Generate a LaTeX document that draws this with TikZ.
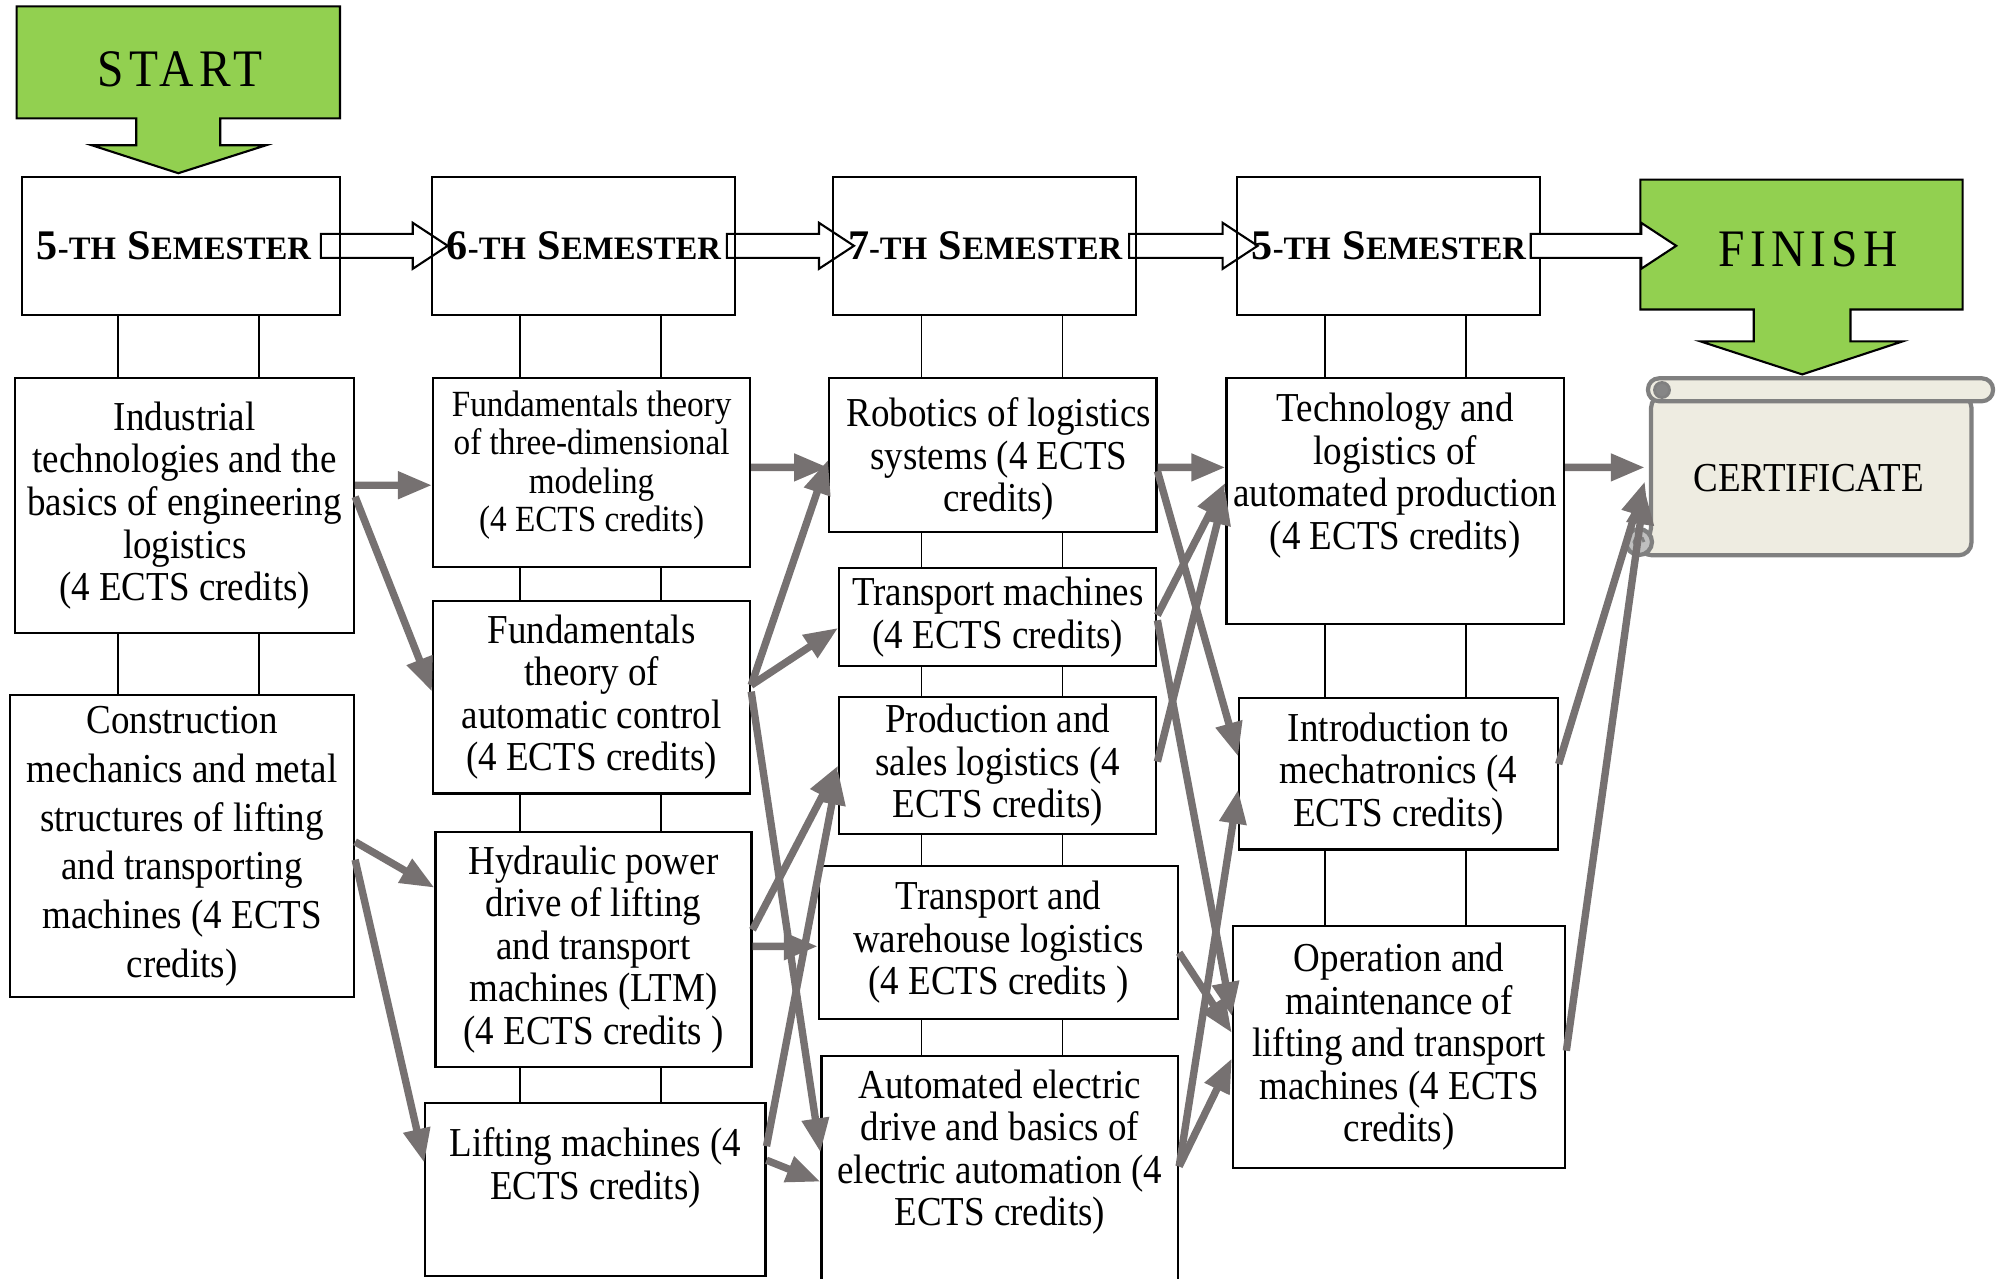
\documentclass[tikz,border=0pt]{standalone}
\usepackage{fontspec}
\setmainfont{Liberation Serif}[FakeStretch=0.9]
\newfontfamily\semfont{Liberation Serif}
\newfontfamily\bannerfont{Liberation Serif}[FakeStretch=0.9, LetterSpace=10]
\usetikzlibrary{arrows.meta, calc, positioning, backgrounds}
\definecolor{ppGreen}{HTML}{92D050}
\definecolor{ppGrey}{HTML}{767171}
\definecolor{ppScroll}{HTML}{EEECE1}
\definecolor{ppEdge}{HTML}{808080}
\definecolor{ppCurl}{HTML}{BFBFBF}
\newcommand{\semlabel}[1]{\mbox{\semfont\bfseries\fontsize{12}{14}\selectfont#1{\fontsize{9.3}{14}\selectfont-TH} S{\fontsize{9.3}{14}\selectfont EMESTER}}}
\newcommand{\blockarrow}[2]{%
  \draw[hollow] let \p1=(#1), \p2=(#2) in
    (\x1,\y1+1.2mm) -- (\x2-3.5mm,\y1+1.2mm) -- (\x2-3.5mm,\y1+2.3mm) -- (\x2,\y1)
    -- (\x2-3.5mm,\y1-2.3mm) -- (\x2-3.5mm,\y1-1.2mm) -- (\x1,\y1-1.2mm) -- cycle;}
\tikzset{
  sembox/.style     = {draw, line width=0.6pt, minimum height=13.76mm, align=left, inner xsep=1.5mm},
  course/.style     = {draw, line width=0.6pt, align=center, inner sep=0pt,
                       font=\fontsize{11.7}{12.1}\selectfont},
  coursetext/.style = {align=center, inner sep=0pt, font=\fontsize{11.7}{12.1}\selectfont},
  link/.style       = {line width=0.5pt},
  flow/.style       = {-{Triangle[length=3.4mm,width=2.6mm]}, ppGrey, line width=2.1pt},
  hollow/.style     = {draw=black, fill=white, line width=0.6pt},
  banner/.style     = {draw=black, fill=ppGreen, line width=0.6pt},
  bannertext/.style = {font=\bannerfont\fontsize{15}{18}\selectfont, inner sep=0pt},
  scroll/.style     = {draw=ppEdge, fill=ppScroll, line width=1.2pt},
}
\begin{document}
\begin{tikzpicture}[x=1cm,y=1cm]
  \useasboundingbox (0,0) rectangle (19.97,-12.78);

  % start and finish banners
  \draw[banner] (0.166,-0.064) -- (3.400,-0.064) -- (3.400,-1.184) -- (2.203,-1.184) -- (2.203,-1.452)
    -- (2.662,-1.452) -- (1.783,-1.732) -- (0.917,-1.452) -- (1.363,-1.452) -- (1.363,-1.184)
    -- (0.166,-1.184) -- cycle;
  \draw[banner] (16.404,-1.796) -- (19.626,-1.796) -- (19.626,-3.095) -- (18.505,-3.095) -- (18.505,-3.413)
    -- (19.028,-3.413) -- (18.022,-3.744) -- (17.003,-3.413) -- (17.537,-3.413) -- (17.537,-3.095)
    -- (16.404,-3.095) -- cycle;
  \node[bannertext, minimum width=32.34mm] (start) at (1.80,-0.69) {START};
  \node[bannertext, minimum width=32.22mm] (finish) at (18.08,-2.49) {FINISH};

  % certificate scroll
  \draw[scroll, rounded corners=1.3mm] (16.51,-3.95) -- (19.715,-3.95) -- (19.715,-5.553)
    -- (16.39,-5.553) -- (16.39,-5.41) -- (16.51,-5.41) -- cycle;
  \draw[scroll, fill=ppCurl] (16.39,-5.42) circle (0.13);
  \draw[ppEdge, line width=0.8pt] (16.44,-5.42) arc (0:270:0.05);
  \draw[scroll, rounded corners=1.1mm] (16.48,-3.783) rectangle (19.93,-4.012);
  \draw[ppEdge, fill=ppCurl!70!black, line width=0.8pt] (16.62,-3.90) circle (0.075);
  \node[coursetext, minimum width=32.6mm, minimum height=15.41mm] (cert) at (18.085,-4.782) {CERTIFICATE};

  % semesters
  \node[sembox, text width=28.8mm] (sem5) at (1.808,-2.458) {\semlabel{5}};
  \node[sembox, text width=27.3mm] (sem6) at (5.833,-2.458) {\semlabel{6}};
  \node[sembox, text width=27.3mm] (sem7) at (9.845,-2.458) {\semlabel{7}};
  \node[sembox, text width=27.3mm] (sem8) at (13.882,-2.458) {\semlabel{5}};
  \begin{scope}[on background layer]
    \blockarrow{[xshift=-2mm]sem5.east}{[xshift=1.7mm]sem6.west}
    \blockarrow{[xshift=-0.9mm]sem6.east}{[xshift=2.2mm]sem7.west}
    \blockarrow{[xshift=-0.8mm]sem7.east}{[xshift=2.2mm]sem8.west}
  \end{scope}
  \blockarrow{[xshift=-1mm]sem8.east}{[xshift=3mm]finish.west}

  % courses
  \node[course, minimum width=33.88mm, minimum height=25.47mm] (ind) at (1.847,-5.056)
    {Industrial\\technologies and the\\basics of engineering\\logistics\\(4 ECTS credits)};
  \node[course, minimum width=34.39mm, minimum height=30.18mm, font=\fontsize{11.7}{13.9}\selectfont]
    (cons) at (1.821,-8.463)
    {Construction\\mechanics and metal\\structures of lifting\\and transporting\\machines (4 ECTS\\credits)};
  \node[course, minimum width=31.71mm, minimum height=18.85mm] (f3d) at (5.916,-4.725) {};
  \node[coursetext, below=1.3mm of f3d.north, font=\fontsize{10.5}{10.9}\selectfont] (f3dtxt)
    {Fundamentals theory\\of three-dimensional\\modeling\\(4 ECTS credits)};
  \node[course, minimum width=31.71mm, minimum height=19.23mm] (fac) at (5.916,-6.973)
    {Fundamentals\\theory of\\automatic control\\(4 ECTS credits)};
  \node[course, minimum width=31.59mm, minimum height=23.56mm] (hyd) at (5.935,-9.495)
    {Hydraulic power\\drive of lifting\\and transport\\machines (LTM)\\(4 ECTS credits )};
  \node[course, minimum width=34.01mm, minimum height=17.32mm] (lift) at (5.954,-11.895) {};
  \node[coursetext, below=2.5mm of lift.north] (lifttxt) {Lifting machines (4\\ECTS credits)};
  \node[course, minimum width=32.73mm, minimum height=15.41mm] (rob) at (9.928,-4.553) {};
  \node[coursetext, below=2mm of rob.north, xshift=0.6mm] (robtxt)
    {Robotics of logistics\\systems (4 ECTS\\credits)};
  \node[course, minimum width=31.71mm, minimum height=9.81mm] (tm) at (9.978,-6.171)
    {Transport machines\\(4 ECTS credits)};
  \node[course, minimum width=31.71mm, minimum height=13.75mm] (prod) at (9.978,-7.654)
    {Production and\\sales logistics (4\\ECTS credits)};
  \node[course, minimum width=35.92mm, minimum height=15.28mm] (tw) at (9.985,-9.425)
    {Transport and\\warehouse logistics\\(4 ECTS credits )};
  \node[course, minimum width=35.66mm, minimum height=24.42mm] (aed) at (9.998,-11.779) {};
  \node[coursetext, below=1.4mm of aed.north] (aedtxt)
    {Automated electric\\drive and basics of\\electric automation (4\\ECTS credits)};
  \node[course, minimum width=33.75mm, minimum height=24.58mm] (tech) at (13.952,-5.012) {};
  \node[coursetext, below=1.5mm of tech.north] (techtxt)
    {Technology and\\logistics of\\automated production\\(4 ECTS credits)};
  \node[course, minimum width=31.84mm, minimum height=15.16mm] (intro) at (13.984,-7.737)
    {Introduction to\\mechatronics (4\\ECTS credits)};
  \node[course, minimum width=33.24mm, minimum height=24.20mm] (oper) at (13.991,-10.469)
    {Operation and\\maintenance of\\lifting and transport\\machines (4 ECTS\\credits)};

  % thin ties down each column
  \foreach \s/\a/\b in {sem5/sem5/ind, sem5/ind/cons,
                        sem6/sem6/f3d, sem6/f3d/fac, sem6/fac/hyd, sem6/hyd/lift,
                        sem7/sem7/rob, sem7/rob/tm, sem7/tm/prod, sem7/prod/tw, sem7/tw/aed,
                        sem8/sem8/tech, sem8/tech/intro, sem8/intro/oper}
    \foreach \dx in {-6.3mm, 7.8mm}
      \draw[link] ($(\s.south |- \a.south)+(\dx,0)$) -- ($(\s.south |- \b.north)+(\dx,0)$);

  % prerequisites
  \draw[flow] ([yshift=2.04mm]ind.east) -- ([yshift=-1.27mm]f3d.west);
  \draw[flow] ([yshift=0.89mm]ind.east) -- ([yshift=0.57mm]fac.west);
  \draw[flow] ([yshift=0.45mm]cons.east) -- ([yshift=6.18mm]hyd.west);
  \draw[flow] ([yshift=-1.34mm]cons.east) -- ([yshift=2.67mm]lift.west);

  \draw[flow] ([yshift=0.51mm]f3d.east) -- ([yshift=-1.21mm]rob.west);
  \draw[flow] ([yshift=1.21mm]fac.east) -- ([yshift=-0.45mm]rob.west);
  \draw[flow] ([yshift=1.21mm]fac.east) -- ([yshift=-1.08mm]tm.west);
  \draw[flow] ([yshift=0.57mm]fac.east) -- ([yshift=2.55mm]aed.west);
  \draw[flow] ([yshift=1.97mm]hyd.east) -- (prod.west);
  \draw[flow] ([yshift=0.32mm]hyd.east) -- ([yshift=-0.38mm]tw.west);
  \draw[flow] ([yshift=4.33mm]lift.east) -- ([yshift=-0.51mm]prod.west);
  \draw[flow] ([yshift=2.93mm]lift.east) -- ([yshift=-0.38mm]aed.west);

  \draw[flow] ([yshift=-1.21mm]rob.east) -- ([yshift=3.38mm]tech.west);
  \draw[flow] ([yshift=-1.59mm]rob.east) -- ([yshift=1.72mm]intro.west);
  \draw[flow] ([yshift=0.19mm]tm.east) -- ([yshift=1.85mm]tech.west);
  \draw[flow] ([yshift=-0.32mm]tm.east) -- ([yshift=3.06mm]oper.west);
  \draw[flow] ([yshift=0.38mm]prod.east) -- ([yshift=1.08mm]tech.west);
  \draw[flow] ([yshift=-1.02mm]tw.east) -- ([yshift=1.40mm]oper.west);
  \draw[flow] ([yshift=1.15mm]aed.east) -- ([yshift=-1.59mm]intro.west);
  \draw[flow] ([yshift=1.15mm]aed.east) -- ([yshift=-1.15mm]oper.west);

  \draw[flow] ([yshift=3.38mm]tech.east) -- ([yshift=1.08mm]cert.west);
  \draw[flow] ([yshift=0.96mm]intro.east) -- ([yshift=-0.32mm]cert.west);
  \draw[flow] ([yshift=-0.38mm]oper.east) -- ([yshift=-1.21mm]cert.west);
\end{tikzpicture}
\end{document}
